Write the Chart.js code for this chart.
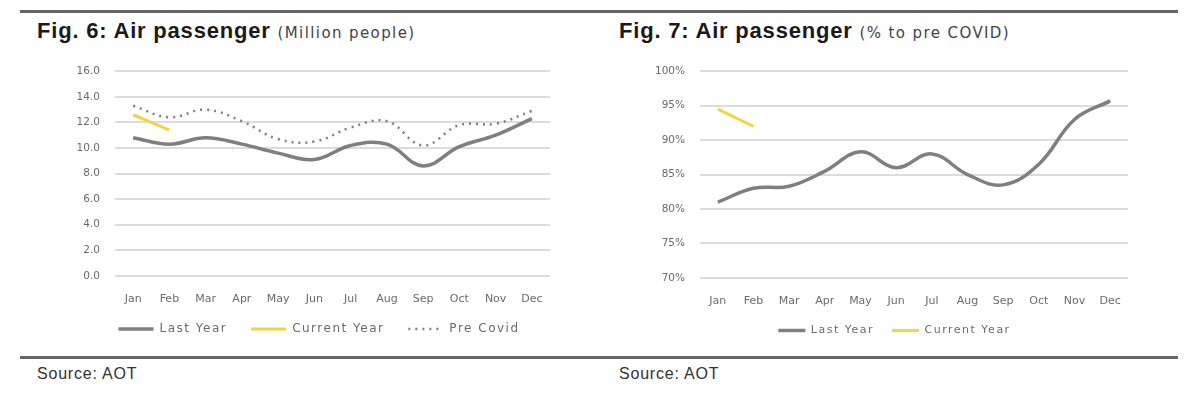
<!DOCTYPE html>
<html>
<head>
<meta charset="utf-8">
<script src="https://cdn.jsdelivr.net/npm/chart.js@4"></script>
<style>
  body { margin: 0; width: 1200px; height: 402px; background: #fff; font-family: 'Liberation Sans', Arial, sans-serif; position: relative; overflow: hidden; }
  .rule { position: absolute; left: 20px; width: 1158px; height: 3px; background: #666; }
  .title { position: absolute; top: 18px; font-size: 22px; font-weight: bold; color: #1a1a1a; letter-spacing: 0.8px; white-space: nowrap; }
  .title span { font-family: 'DejaVu Sans', sans-serif; font-weight: normal; font-size: 15px; color: #444; letter-spacing: 1.4px; }
  .source { position: absolute; top: 365px; font-size: 16px; color: #333; letter-spacing: 0.8px; }
  .box { position: absolute; top: 50px; }
</style>
</head>
<body>
<div class="rule" style="top:10px"></div>
<div class="rule" style="top:356px"></div>
<div class="title" style="left:37px">Fig. 6: Air passenger <span>(Million people)</span></div>
<div class="title" style="left:619px">Fig. 7: Air passenger <span>(% to pre COVID)</span></div>
<div class="source" style="left:37px">Source: AOT</div>
<div class="source" style="left:619px">Source: AOT</div>
<div class="box" style="left:74px;width:486px;height:295px"><canvas id="fig6"></canvas></div>
<div class="box" style="left:655px;width:483px;height:296px"><canvas id="fig7"></canvas></div>
<script>
const months = ['Jan', 'Feb', 'Mar', 'Apr', 'May', 'Jun', 'Jul', 'Aug', 'Sep', 'Oct', 'Nov', 'Dec'];

// Fig. 6 - million people
const paxLastYear = [10.8, 10.3, 10.8, 10.3, 9.6, 9.1, 10.2, 10.3, 8.6, 10.1, 11.0, 12.3];
const paxCurrentYear = [12.6, 11.4];
const paxPreCovid = [13.3, 12.4, 13.0, 12.1, 10.7, 10.5, 11.6, 12.1, 10.2, 11.8, 11.9, 12.9];

// Fig. 7 - % to pre covid
const pctLastYear = [81.0, 83.0, 83.3, 85.5, 88.3, 86.0, 88.0, 85.0, 83.5, 86.5, 93.0, 95.7];
const pctCurrentYear = [94.5, 92.0];

const GREY = '#7f7f7f';
const YELLOW = '#f2d640';
const TICK = '#6b6b6b';
const FONT = 'DejaVu Sans';

// default legend items, but keep the dataset dash and add a gap after each label
function legendLabels(gap) {
  return (chart) => {
    const items = Chart.defaults.plugins.legend.labels.generateLabels(chart);
    return items.map((item, i) => ({
      ...item,
      text: i < items.length - 1 ? item.text + gap : item.text,
      lineDash: chart.data.datasets[item.datasetIndex].borderDash || [],
    }));
  };
}

// the legend text in the source is widely tracked and sits a bit right of centre
const legendSpacing = {
  id: 'legendSpacing',
  afterInit(chart, args, opts) {
    const lg = chart.legend;
    const fit = lg.fit.bind(lg);
    const draw = lg.draw.bind(lg);
    const wrap = (fn, dx) => () => {
      chart.ctx.save();
      chart.ctx.letterSpacing = opts.spacing;
      chart.ctx.translate(dx, 0);
      fn();
      chart.ctx.restore();
    };
    lg.fit = wrap(fit, 0);
    lg.draw = wrap(draw, opts.shift);
  },
};

function baseOptions(yMin, yMax, step, fmt, yWidth, lgBox, lgFont, gap, shift) {
  return {
    responsive: true,
    maintainAspectRatio: false,
    animation: false,
    layout: { padding: { top: 6, right: 10, bottom: 0, left: 0 } },
    elements: { point: { radius: 0 }, line: { tension: 0.4 } },
    plugins: {
      tooltip: { enabled: false },
      legendSpacing: { spacing: '1.5px', shift },
      legend: {
        position: 'bottom',
        labels: {
          usePointStyle: true,
          pointStyle: 'line',
          pointStyleWidth: lgBox,
          boxWidth: lgBox,
          padding: 8,
          color: TICK,
          font: { family: FONT, size: lgFont },
          generateLabels: legendLabels(gap),
        },
      },
    },
    scales: {
      x: {
        offset: true,
        grid: { display: false },
        border: { display: false },
        ticks: { color: TICK, font: { family: FONT, size: 11 }, padding: 9 },
      },
      y: {
        min: yMin,
        max: yMax,
        afterFit: (s) => { s.width = yWidth; },
        grid: { color: '#dcdcdc', lineWidth: 2, drawTicks: false },
        border: { display: false },
        ticks: { stepSize: step, color: TICK, font: { family: FONT, size: 10.5 }, padding: 15, callback: fmt },
      },
    },
  };
}

// eslint-disable-next-line no-new
new Chart(document.getElementById('fig6'), {
  type: 'line',
  plugins: [legendSpacing],
  data: {
    labels: months,
    datasets: [
      { label: 'Last Year', data: paxLastYear, borderColor: GREY, backgroundColor: GREY, borderWidth: 3.5 },
      { label: 'Current Year', data: paxCurrentYear, borderColor: YELLOW, backgroundColor: YELLOW, borderWidth: 3 },
      { label: 'Pre Covid', data: paxPreCovid, borderColor: GREY, backgroundColor: GREY, borderWidth: 2.5, borderDash: [2, 5] },
    ],
  },
  options: baseOptions(0, 16, 2, (v) => v.toFixed(1), 41, 35, 12, '   ', 7),
});

// eslint-disable-next-line no-new
new Chart(document.getElementById('fig7'), {
  type: 'line',
  plugins: [legendSpacing],
  data: {
    labels: months,
    datasets: [
      { label: 'Last Year', data: pctLastYear, borderColor: GREY, backgroundColor: GREY, borderWidth: 3.5 },
      { label: 'Current Year', data: pctCurrentYear, borderColor: YELLOW, backgroundColor: YELLOW, borderWidth: 3 },
    ],
  },
  options: baseOptions(70, 100, 5, (v) => `${v}%`, 45, 27, 11, '  ', 3),
});
</script>
</body>
</html>
